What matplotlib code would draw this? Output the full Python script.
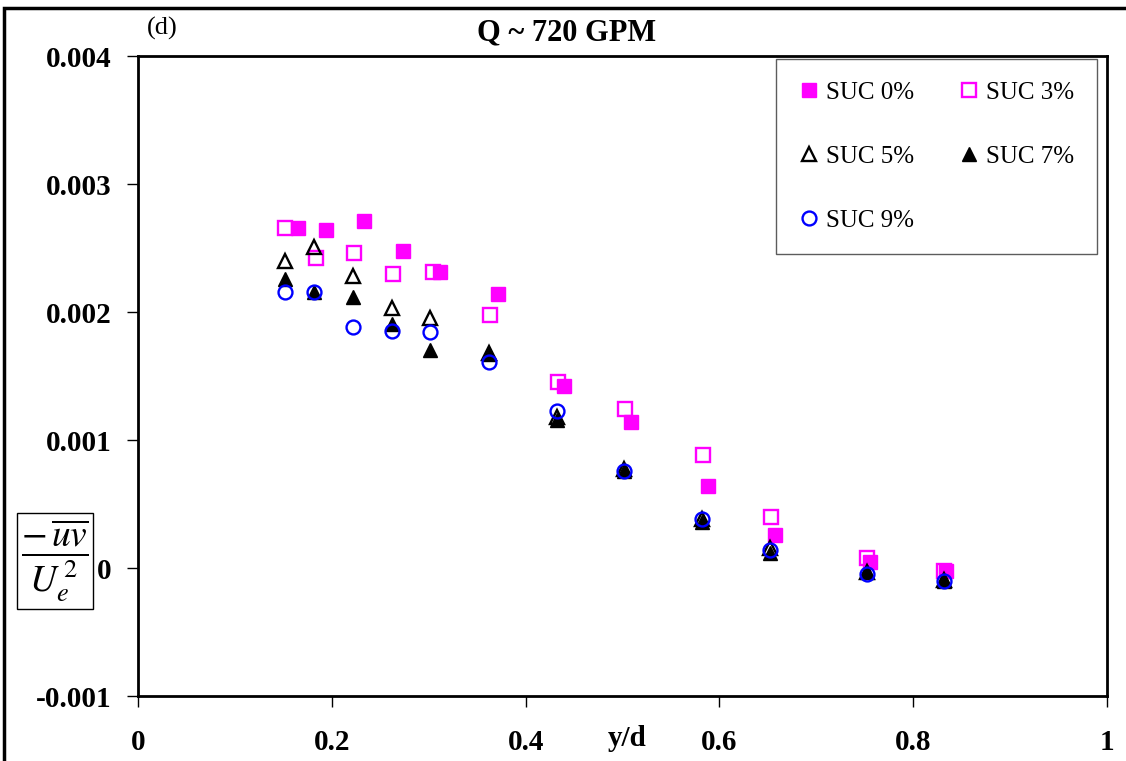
import matplotlib
matplotlib.use("Agg")
import matplotlib.pyplot as plt
from matplotlib.patches import Rectangle

plt.rcParams["font.family"] = ["Liberation Serif", "DejaVu Serif"]
plt.rcParams["mathtext.fontset"] = "stix"

# Reynolds shear stress profiles, -uv / Ue^2 against y/d
x_suc0 = [0.165, 0.194, 0.233, 0.273, 0.312, 0.372, 0.440, 0.509, 0.588, 0.657, 0.755, 0.834]
y_suc0 = [0.00266, 0.00264, 0.00271, 0.00248, 0.00231, 0.00214, 0.00142, 0.00114, 0.00064, 0.00026, 0.00005, -0.00002]

x_suc3 = [0.152, 0.184, 0.223, 0.263, 0.304, 0.363, 0.433, 0.503, 0.583, 0.653, 0.752, 0.832]
y_suc3 = [0.00266, 0.00242, 0.00246, 0.00230, 0.00231, 0.00198, 0.00145, 0.00124, 0.00088, 0.00040, 0.00008, -0.00002]

x_suc5 = [0.152, 0.182, 0.222, 0.262, 0.301, 0.362, 0.432, 0.502, 0.582, 0.652, 0.752, 0.832]
y_suc5 = [0.00240, 0.00251, 0.00228, 0.00203, 0.00195, 0.00168, 0.00118, 0.00077, 0.00038, 0.00016, -0.00003, -0.00009]

x_suc7 = [0.152, 0.182, 0.222, 0.262, 0.301, 0.362, 0.432, 0.502, 0.582, 0.652, 0.752, 0.832]
y_suc7 = [0.00226, 0.00216, 0.00212, 0.00191, 0.00170, 0.00167, 0.00116, 0.00076, 0.00036, 0.00012, -0.00003, -0.00010]

x_suc9 = [0.152, 0.182, 0.222, 0.262, 0.301, 0.362, 0.432, 0.502, 0.582, 0.652, 0.752, 0.832]
y_suc9 = [0.00216, 0.00216, 0.00188, 0.00185, 0.00184, 0.00161, 0.00123, 0.00076, 0.00038, 0.00014, -0.00005, -0.00010]

x_ticks = [0, 0.2, 0.4, 0.6, 0.8, 1]
x_tick_labels = ["0", "0.2", "0.4", "0.6", "0.8", "1"]
y_ticks = [-0.001, 0, 0.001, 0.002, 0.003, 0.004]
y_tick_labels = ["-0.001", "0", "0.001", "0.002", "0.003", "0.004"]

MAGENTA = "#FF00FF"
BLUE = "#0000FF"

fig = plt.figure(figsize=(11.26, 7.61), dpi=100)
ax = fig.add_axes([0.1226, 0.0854, 0.8605, 0.8410])

ms = 10
mew = 1.7
h0, = ax.plot(x_suc0, y_suc0, "s", ms=ms, color=MAGENTA, mec=MAGENTA, label="SUC 0%")
h3, = ax.plot(x_suc3, y_suc3, "s", ms=ms, mfc="none", mec=MAGENTA, mew=mew, label="SUC 3%")
h5, = ax.plot(x_suc5, y_suc5, "^", ms=ms, mfc="none", mec="black", mew=mew, label="SUC 5%")
h7, = ax.plot(x_suc7, y_suc7, "^", ms=ms, color="black", label="SUC 7%")
h9, = ax.plot(x_suc9, y_suc9, "o", ms=ms, mfc="none", mec=BLUE, mew=mew, label="SUC 9%")

ax.set_xlim(0, 1)
ax.set_ylim(-0.001, 0.004)
ax.set_xticks(x_ticks)
ax.set_xticklabels(x_tick_labels)
ax.set_yticks(y_ticks)
ax.set_yticklabels(y_tick_labels)
ax.tick_params(axis="both", direction="out", length=8, width=1, labelsize=21)
ax.tick_params(axis="x", pad=16)
ax.tick_params(axis="y", pad=11)
for lbl in ax.get_xticklabels() + ax.get_yticklabels():
    lbl.set_fontweight("bold")
for sp in ax.spines.values():
    sp.set_linewidth(2)

# legend laid out row by row: 0/3, 5/7, 9
leg = ax.legend(
    handles=[h0, h5, h9, h3, h7],
    ncol=2,
    loc="upper left",
    bbox_to_anchor=(0.658, 0.9953),
    fontsize=18,
    frameon=True,
    fancybox=False,
    borderpad=0.9,
    labelspacing=1.65,
    handlelength=0.85,
    handletextpad=0.25,
    columnspacing=1.8,
    borderaxespad=0,
)
leg.get_frame().set_edgecolor("#333333")
leg.get_frame().set_linewidth(1.0)

fig.text(567 / 1126, 1 - 33 / 761, "Q ~ 720 GPM", ha="center", va="center",
         fontsize=22, fontweight="bold")
fig.text(162 / 1126, 1 - 28 / 761, "(d)", ha="center", va="center", fontsize=19)
fig.text(627 / 1126, 1 - 738 / 761, "y/d", ha="center", va="center",
         fontsize=21, fontweight="bold")
fig.text(55 / 1126, 1 - 561 / 761, r"$\dfrac{-\,\overline{uv}}{U_e^{\,2}}$",
         ha="center", va="center", fontsize=27,
         bbox=dict(boxstyle="square,pad=0.12", fc="white", ec="black", lw=1))

# outer frame of the figure
fig.patches.append(Rectangle((4 / 1126, -0.05), 1.2, 1 - 8 / 761 + 0.05,
                             transform=fig.transFigure, fill=False,
                             ec="black", lw=2.5, zorder=10))

fig.savefig("out.png", dpi=100)
